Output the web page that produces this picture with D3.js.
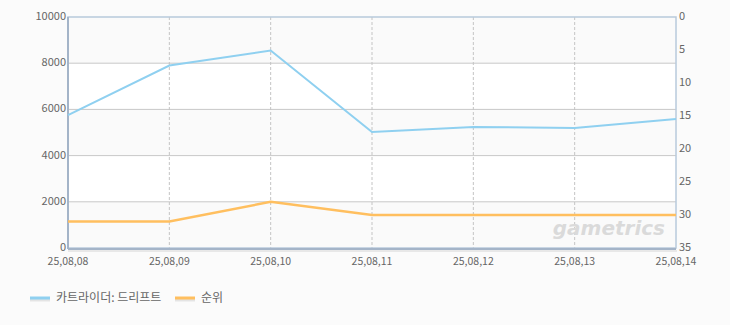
<!DOCTYPE html>
<html>
<head>
<meta charset="utf-8">
<script src="https://cdn.jsdelivr.net/npm/d3@7"></script>
<style>
  body { margin: 0; background: #fbfbfb; }
  text { font-family: "Noto Sans CJK KR", "DejaVu Sans", sans-serif; }
</style>
</head>
<body>
<div id="chart"></div>
<script>
const dates = ["25,08,08", "25,08,09", "25,08,10", "25,08,11", "25,08,12", "25,08,13", "25,08,14"];
const players = [5750, 7900, 8550, 5020, 5240, 5190, 5580];
const ranks = [31, 31, 28, 30, 30, 30, 30];
const leftTicks = [0, 2000, 4000, 6000, 8000, 10000];
const rightTicks = [0, 5, 10, 15, 20, 25, 30, 35];
const seriesNames = ["카트라이더: 드리프트", "순위"];
const colors = ["#8fd0f0", "#ffbf5f"];

const width = 730, height = 325;
const plotLeft = 68, plotRight = 676, plotTop = 17, plotBottom = 248;

const svg = d3.select("#chart").append("svg")
  .attr("width", width)
  .attr("height", height);

const x = d3.scalePoint().domain(dates).range([plotLeft, plotRight]);
const y = d3.scaleLinear().domain([0, 10000]).range([plotBottom, plotTop]);
const yr = d3.scaleLinear().domain([0, 35]).range([plotTop, plotBottom]);

// alternating bands
const bands = d3.range(0, 10000, 2000);
svg.append("g").selectAll("rect")
  .data(bands)
  .join("rect")
  .attr("x", plotLeft)
  .attr("width", plotRight - plotLeft)
  .attr("y", d => y(d + 2000))
  .attr("height", d => y(d) - y(d + 2000))
  .attr("fill", (d, i) => i % 2 === 0 ? "#fafafa" : "#ffffff");

// horizontal grid
svg.append("g").selectAll("line")
  .data(leftTicks.slice(1, -1))
  .join("line")
  .attr("x1", plotLeft).attr("x2", plotRight)
  .attr("y1", d => y(d)).attr("y2", d => y(d))
  .attr("stroke", "#c8c8c8");

// vertical dashed grid
svg.append("g").selectAll("line")
  .data(dates.slice(1, -1))
  .join("line")
  .attr("x1", d => x(d)).attr("x2", d => x(d))
  .attr("y1", plotTop).attr("y2", plotBottom)
  .attr("stroke", "#c4c4c4")
  .attr("stroke-dasharray", "3,2");

// watermark
svg.append("text")
  .attr("x", 665).attr("y", 235)
  .attr("text-anchor", "end")
  .attr("font-size", 20)
  .attr("font-weight", "bold")
  .attr("font-style", "italic")
  .attr("fill", "#dadada")
  .style("font-family", "DejaVu Sans, sans-serif")
  .text("gametrics");

// frame
svg.append("rect")
  .attr("x", plotLeft).attr("y", plotTop)
  .attr("width", plotRight - plotLeft).attr("height", plotBottom - plotTop)
  .attr("fill", "none")
  .attr("stroke", "#b8cadc")
  .attr("stroke-width", 1.5);
svg.append("line")
  .attr("x1", plotLeft).attr("x2", plotLeft)
  .attr("y1", plotTop).attr("y2", plotBottom + 1)
  .attr("stroke", "#a4b4c8").attr("stroke-width", 2);
svg.append("line")
  .attr("x1", plotLeft).attr("x2", plotRight)
  .attr("y1", plotBottom + 1).attr("y2", plotBottom + 1)
  .attr("stroke", "#a4b4c8").attr("stroke-width", 2);
svg.append("line")
  .attr("x1", plotLeft).attr("x2", plotRight + 1)
  .attr("y1", plotBottom + 3).attr("y2", plotBottom + 3)
  .attr("stroke", "#e8e8e8").attr("stroke-width", 2);

// lines
const line1 = d3.line().x((d, i) => x(dates[i])).y(d => y(d));
const line2 = d3.line().x((d, i) => x(dates[i])).y(d => yr(d));

svg.append("path")
  .datum(players)
  .attr("d", line1)
  .attr("fill", "none")
  .attr("stroke", colors[0])
  .attr("stroke-width", 2);

svg.append("path")
  .datum(ranks)
  .attr("d", line2)
  .attr("fill", "none")
  .attr("stroke", colors[1])
  .attr("stroke-width", 2.5);

// axis labels
svg.append("g").selectAll("text")
  .data(leftTicks)
  .join("text")
  .attr("x", plotLeft - 2)
  .attr("y", d => y(d) + 3)
  .attr("text-anchor", "end")
  .attr("font-size", 11)
  .attr("fill", "#666")
  .text(d => d);

svg.append("g").selectAll("text")
  .data(rightTicks)
  .join("text")
  .attr("x", plotRight + 3)
  .attr("y", d => yr(d) + 3)
  .attr("font-size", 11)
  .attr("fill", "#666")
  .text(d => d);

svg.append("g").selectAll("text")
  .data(dates)
  .join("text")
  .attr("x", d => x(d))
  .attr("y", plotBottom + 17)
  .attr("text-anchor", "middle")
  .attr("font-size", 10.5)
  .attr("fill", "#666")
  .text(d => d);

// legend
const legendX = [30, 175];
const legend = svg.append("g").selectAll("g")
  .data(seriesNames)
  .join("g")
  .attr("transform", (d, i) => `translate(${legendX[i]},298)`);
legend.append("line")
  .attr("x1", 0).attr("x2", 20)
  .attr("y1", 2).attr("y2", 2)
  .attr("stroke", "#e4e4e4").attr("stroke-width", 3);
legend.append("line")
  .attr("x1", 0).attr("x2", 20)
  .attr("y1", 0).attr("y2", 0)
  .attr("stroke", (d, i) => colors[i]).attr("stroke-width", 3);
legend.append("text")
  .attr("x", 26).attr("y", 4)
  .attr("font-size", 12)
  .attr("fill", "#666")
  .text(d => d);
</script>
</body>
</html>
